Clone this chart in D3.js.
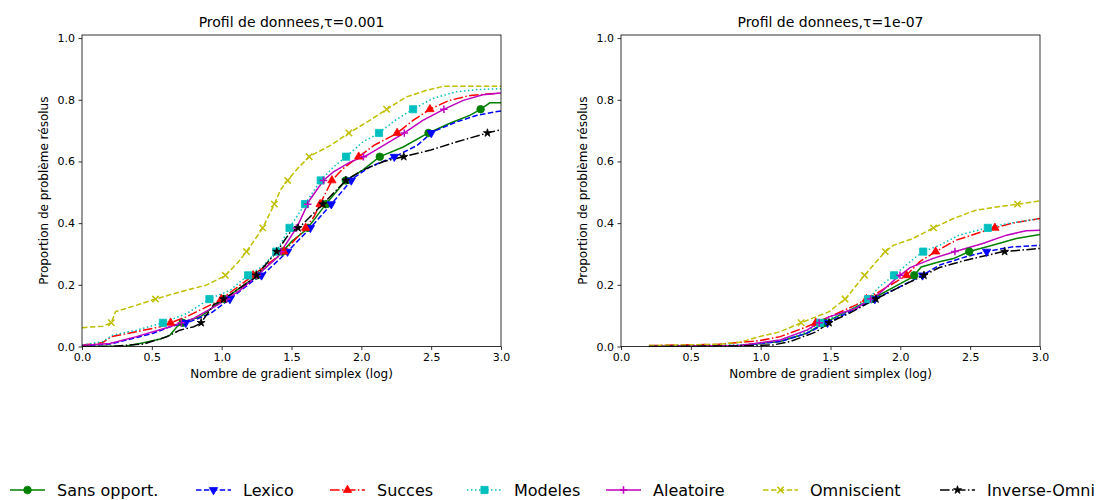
<!DOCTYPE html>
<html>
<head>
<meta charset="utf-8">
<script src="https://cdn.jsdelivr.net/npm/d3@7"></script>
<style>
  body { margin: 0; background: #fff; }
  text { font-family: "DejaVu Sans", sans-serif; fill: #000; }
</style>
</head>
<body>
<div id="chart"></div>
<script>
var titles = ["Profil de donnees,\u03c4=0.001", "Profil de donnees,\u03c4=1e-07"];
var xLabel = "Nombre de gradient simplex (log)";
var yLabel = "Proportion de probl\u00e8me r\u00e9solus";
var xTicks = [0, 0.5, 1.0, 1.5, 2.0, 2.5, 3.0];
var yTicks = [0, 0.2, 0.4, 0.6, 0.8, 1.0];
var methods = ["Sans opport.", "Lexico", "Succes", "Modeles", "Aleatoire", "Omniscient", "Inverse-Omni"];
var markStep = 1 / 13;

// tau = 0.001
var sansA = [[0,0],[0.32,0.002],[0.44,0.012],[0.56,0.024],[0.63,0.037],[0.68,0.064],[0.73,0.08],[0.85,0.097],[0.99,0.145],[1.13,0.19],[1.23,0.222],[1.4,0.29],[1.5,0.34],[1.61,0.38],[1.75,0.464],[1.89,0.539],[2.01,0.572],[2.13,0.615],[2.3,0.647],[2.47,0.69],[2.63,0.723],[2.78,0.75],[2.85,0.768],[2.92,0.79],[3.0,0.79]];
var lexicoA = [[0,0.002],[0.2,0.008],[0.32,0.021],[0.51,0.043],[0.63,0.064],[0.77,0.08],[0.92,0.107],[1.08,0.161],[1.23,0.215],[1.3,0.235],[1.47,0.307],[1.63,0.382],[1.79,0.464],[1.94,0.545],[2.06,0.582],[2.25,0.618],[2.4,0.652],[2.51,0.696],[2.68,0.728],[2.83,0.75],[3.0,0.764]];
var succesA = [[0,0.004],[0.15,0.013],[0.21,0.032],[0.39,0.048],[0.56,0.064],[0.75,0.097],[0.98,0.148],[1.2,0.222],[1.44,0.305],[1.59,0.378],[1.66,0.42],[1.73,0.485],[1.79,0.539],[1.87,0.577],[1.98,0.615],[2.09,0.652],[2.25,0.69],[2.37,0.733],[2.49,0.769],[2.63,0.798],[2.78,0.814],[3.0,0.822]];
var modelesA = [[0,0.005],[0.15,0.016],[0.22,0.037],[0.39,0.053],[0.58,0.077],[0.75,0.107],[0.92,0.156],[1.06,0.182],[1.18,0.228],[1.3,0.262],[1.39,0.307],[1.49,0.388],[1.6,0.464],[1.71,0.539],[1.8,0.582],[1.89,0.615],[2.01,0.663],[2.12,0.69],[2.25,0.736],[2.37,0.769],[2.51,0.804],[2.68,0.826],[2.83,0.833],[3.0,0.836]];
var aleatA = [[0,0.003],[0.2,0.01],[0.39,0.032],[0.63,0.064],[0.8,0.091],[0.99,0.14],[1.13,0.182],[1.23,0.221],[1.4,0.29],[1.54,0.388],[1.63,0.475],[1.73,0.539],[1.8,0.566],[1.92,0.598],[2.04,0.62],[2.18,0.658],[2.3,0.69],[2.44,0.733],[2.59,0.769],[2.73,0.798],[2.87,0.816],[3.0,0.822]];
var omniA = [[0,0.061],[0.15,0.066],[0.21,0.077],[0.24,0.113],[0.37,0.131],[0.52,0.153],[0.7,0.177],[0.89,0.199],[1.02,0.228],[1.11,0.269],[1.18,0.309],[1.29,0.381],[1.38,0.464],[1.42,0.507],[1.48,0.543],[1.55,0.58],[1.63,0.617],[1.78,0.652],[1.91,0.692],[2.06,0.733],[2.18,0.769],[2.32,0.809],[2.47,0.831],[2.59,0.844],[3.0,0.844]];
var invA = [[0,0],[0.2,0],[0.44,0.008],[0.61,0.032],[0.7,0.053],[0.8,0.064],[0.85,0.075],[0.94,0.134],[1.04,0.161],[1.23,0.221],[1.39,0.305],[1.49,0.37],[1.56,0.388],[1.73,0.464],[1.89,0.539],[2.01,0.572],[2.16,0.6],[2.3,0.615],[2.49,0.636],[2.68,0.663],[2.9,0.692],[3.0,0.703]];

// tau = 1e-07
var sansB = [[0.2,0.001],[0.85,0.003],[1.14,0.016],[1.33,0.043],[1.47,0.08],[1.66,0.123],[1.85,0.167],[2.0,0.204],[2.09,0.226],[2.15,0.258],[2.28,0.275],[2.38,0.285],[2.5,0.309],[2.66,0.328],[2.83,0.35],[3.0,0.363]];
var lexicoB = [[0.2,0.001],[0.85,0.003],[1.14,0.016],[1.33,0.043],[1.47,0.075],[1.64,0.113],[1.8,0.15],[1.95,0.183],[2.16,0.231],[2.28,0.264],[2.47,0.291],[2.61,0.307],[2.8,0.323],[3.0,0.328]];
var succesB = [[0.2,0.003],[0.7,0.007],[0.99,0.019],[1.14,0.032],[1.33,0.064],[1.52,0.102],[1.68,0.134],[1.85,0.178],[2.04,0.229],[2.14,0.275],[2.25,0.307],[2.4,0.345],[2.64,0.38],[2.8,0.4],[3.0,0.415]];
var modelesB = [[0.2,0.002],[0.85,0.005],[0.99,0.01],[1.14,0.021],[1.33,0.048],[1.43,0.078],[1.64,0.118],[1.77,0.154],[1.85,0.194],[1.95,0.229],[2.07,0.275],[2.16,0.307],[2.28,0.328],[2.42,0.361],[2.6,0.382],[2.76,0.398],[3.0,0.415]];
var aleatB = [[0.2,0.001],[0.85,0.003],[1.14,0.021],[1.33,0.053],[1.49,0.096],[1.68,0.123],[1.85,0.172],[1.97,0.221],[2.07,0.256],[2.23,0.285],[2.4,0.309],[2.59,0.334],[2.76,0.361],[2.9,0.375],[3.0,0.377]];
var omniB = [[0.2,0.003],[0.7,0.007],[0.85,0.014],[0.99,0.032],[1.14,0.048],[1.29,0.077],[1.49,0.113],[1.61,0.156],[1.74,0.229],[1.89,0.307],[1.95,0.328],[2.09,0.35],[2.23,0.383],[2.38,0.415],[2.54,0.442],[2.73,0.455],[2.88,0.464],[3.0,0.472]];
var invB = [[0.2,0],[0.85,0.002],[1.09,0.005],[1.21,0.016],[1.4,0.048],[1.49,0.077],[1.64,0.109],[1.8,0.148],[1.95,0.183],[2.17,0.231],[2.28,0.256],[2.47,0.28],[2.73,0.307],[3.0,0.318]];

var seriesA = [sansA, lexicoA, succesA, modelesA, aleatA, omniA, invA];
var seriesB = [sansB, lexicoB, succesB, modelesB, aleatB, omniB, invB];

var styles = [
  {color: "#008000", dash: null, marker: "o"},
  {color: "#0000ff", dash: "5.5,2.4", marker: "v"},
  {color: "#ff0000", dash: "9.6,2.4,1.5,2.4", marker: "^"},
  {color: "#00bfbf", dash: "1.5,2.5", marker: "s"},
  {color: "#bf00bf", dash: null, marker: "+"},
  {color: "#bfbf00", dash: "5.5,2.4", marker: "x"},
  {color: "#000000", dash: "9.6,2.4,1.5,2.4", marker: "*"}
];

var W = 1097, H = 500;
var svg = d3.select("#chart").append("svg").attr("width", W).attr("height", H);

function drawMarker(g, type, color, x, y) {
  var s = 7.5;
  if (type === "+" || type === "x") {
    var r = s / 2;
    var p = type === "+"
      ? "M" + (-r) + ",0H" + r + "M0," + (-r) + "V" + r
      : "M" + (-r*0.85) + "," + (-r*0.85) + "L" + (r*0.85) + "," + (r*0.85) + "M" + (-r*0.85) + "," + (r*0.85) + "L" + (r*0.85) + "," + (-r*0.85);
    g.append("path").attr("d", p).attr("transform", "translate(" + x + "," + y + ")")
      .attr("stroke", color).attr("stroke-width", 1.5).attr("fill", "none");
    return;
  }
  var sym, area, rot = 0;
  if (type === "o") { sym = d3.symbolCircle; area = Math.PI * 3.8 * 3.8; }
  else if (type === "s") { sym = d3.symbolSquare; area = 7.2 * 7.2; }
  else if (type === "^") { sym = d3.symbolTriangle; area = 30; }
  else if (type === "v") { sym = d3.symbolTriangle; area = 30; rot = 180; }
  else { sym = d3.symbolStar; area = 20; }
  g.append("path").attr("d", d3.symbol().type(sym).size(area)())
    .attr("transform", "translate(" + x + "," + y + ") rotate(" + rot + ")")
    .attr("fill", color).attr("stroke", color).attr("stroke-width", 0.8);
}

function markerPoints(data) {
  var pts = [];
  var maxY = d3.max(data, function(d) { return d[1]; });
  for (var k = 1; k * markStep <= maxY + 1e-9; k++) {
    var lv = k * markStep;
    for (var i = 1; i < data.length; i++) {
      if (data[i][1] >= lv) {
        var a = data[i-1], b = data[i];
        var t = b[1] === a[1] ? 1 : (lv - a[1]) / (b[1] - a[1]);
        pts.push([a[0] + t * (b[0] - a[0]), lv]);
        break;
      }
    }
  }
  return pts;
}

function drawPanel(left, title, series, idx) {
  var x = d3.scaleLinear().domain([0, 3]).range([left, left + 419]);
  var y = d3.scaleLinear().domain([0, 1.01]).range([346.5, 35]);

  var g = svg.append("g");
  g.append("clipPath").attr("id", "clip" + idx).append("rect")
    .attr("x", left).attr("y", 35).attr("width", 419).attr("height", 311.5);

  g.append("g").attr("transform", "translate(0,346.5)")
    .call(d3.axisBottom(x).tickValues(xTicks).tickFormat(d3.format(".1f")).tickSize(3.5).tickPadding(3.5))
    .call(function(a) { a.select(".domain").remove(); a.selectAll("line").attr("stroke", "#000").attr("stroke-width", 0.8); a.selectAll("text").style("font-size", "11px").attr("fill", "#000"); });
  g.append("g").attr("transform", "translate(" + left + ",0)")
    .call(d3.axisLeft(y).tickValues(yTicks).tickFormat(d3.format(".1f")).tickSize(3.5).tickPadding(3.5))
    .call(function(a) { a.select(".domain").remove(); a.selectAll("line").attr("stroke", "#000").attr("stroke-width", 0.8); a.selectAll("text").style("font-size", "11px").attr("fill", "#000"); });

  var line = d3.line().x(function(d) { return x(d[0]); }).y(function(d) { return y(d[1]); });
  var plot = g.append("g").attr("clip-path", "url(#clip" + idx + ")");
  series.forEach(function(data, i) {
    var st = styles[i];
    plot.append("path").datum(data).attr("d", line)
      .attr("fill", "none").attr("stroke", st.color).attr("stroke-width", 1.5)
      .attr("stroke-dasharray", st.dash);
  });
  series.forEach(function(data, i) {
    markerPoints(data).forEach(function(p) { drawMarker(plot, styles[i].marker, styles[i].color, x(p[0]), y(p[1])); });
  });

  g.append("rect").attr("x", left).attr("y", 35).attr("width", 419).attr("height", 311.5)
    .attr("fill", "none").attr("stroke", "#000").attr("stroke-width", 0.8);

  g.append("text").attr("x", left + 209.5).attr("y", 27).attr("text-anchor", "middle")
    .style("font-size", "14px").text(title);
  g.append("text").attr("x", left + 209.5).attr("y", 378).attr("text-anchor", "middle")
    .style("font-size", "12px").text(xLabel);
  g.append("text").attr("transform", "translate(" + (left - 34) + ",190.7) rotate(-90)")
    .attr("text-anchor", "middle").style("font-size", "12px").text(yLabel);
}

drawPanel(82, titles[0], seriesA, 0);
drawPanel(621, titles[1], seriesB, 1);

// legend
var legendX = [10, 196, 330, 467, 606, 763, 940];
var leg = svg.append("g");
methods.forEach(function(name, i) {
  var st = styles[i], lx = legendX[i], ly = 490;
  leg.append("line").attr("x1", lx).attr("x2", lx + 35).attr("y1", ly).attr("y2", ly)
    .attr("stroke", st.color).attr("stroke-width", 1.5).attr("stroke-dasharray", st.dash);
  drawMarker(leg, st.marker, st.color, lx + 17.5, ly);
  leg.append("text").attr("x", lx + 47).attr("y", ly + 6).style("font-size", "16px").text(name);
});
</script>
</body>
</html>
